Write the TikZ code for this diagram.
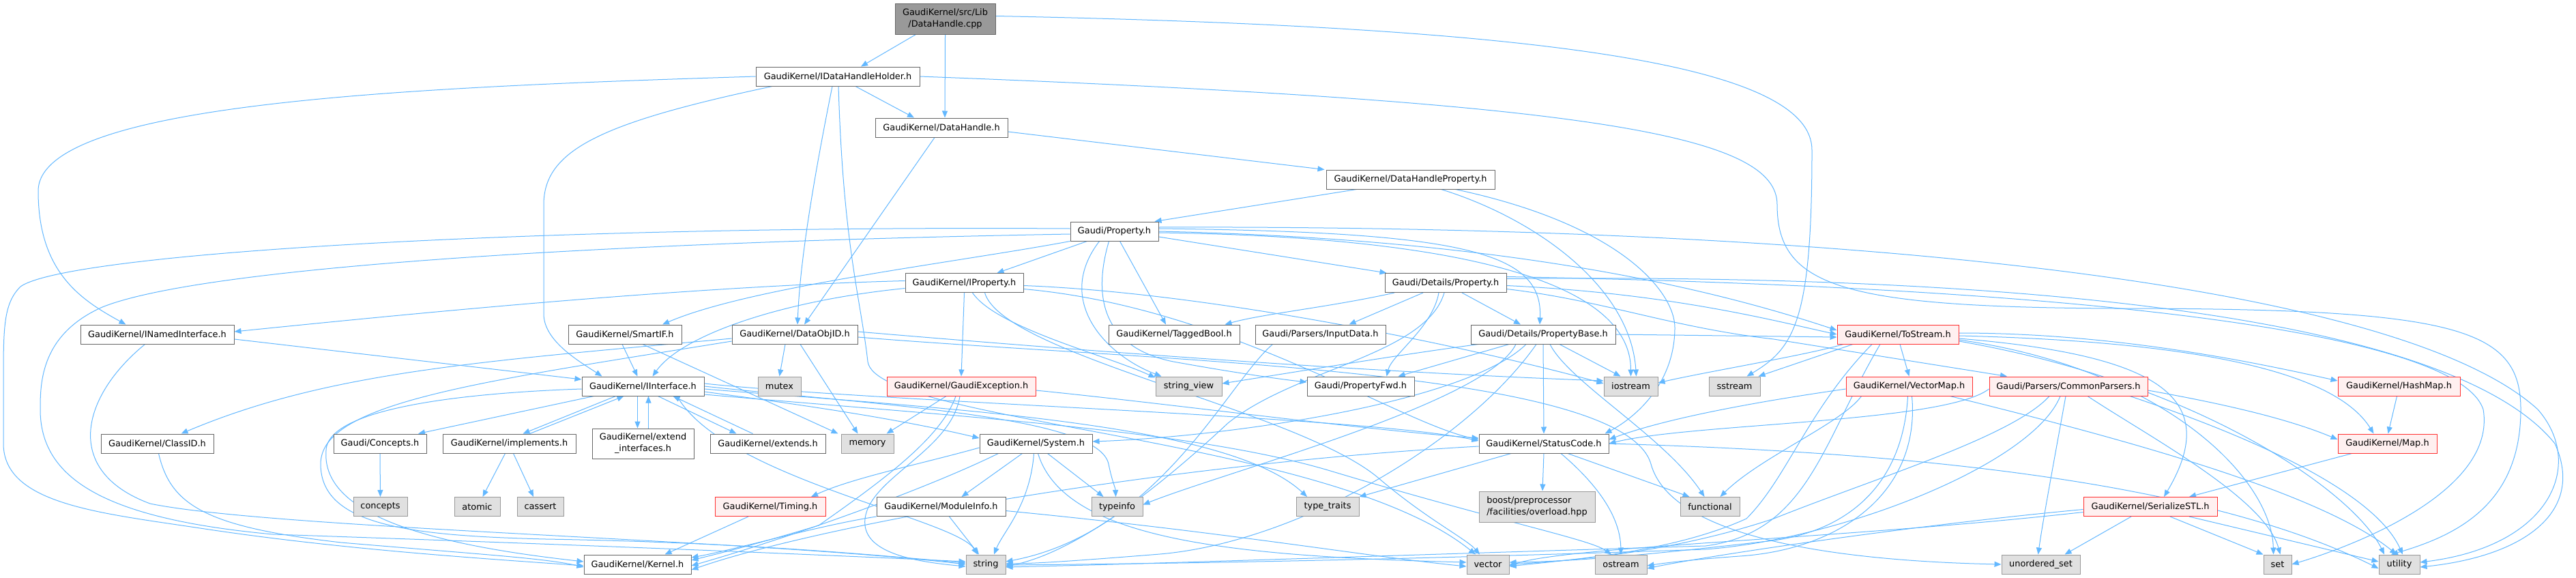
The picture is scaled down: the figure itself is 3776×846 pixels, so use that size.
\documentclass[tikz,border=0pt]{standalone}
\usepackage{fontspec}
\setmainfont{DejaVu Sans}
\usetikzlibrary{arrows.meta}
\definecolor{edgec}{HTML}{63B8FF}
\definecolor{bordc}{HTML}{666666}
\definecolor{sysfill}{HTML}{E0E0E0}
\definecolor{sysbord}{HTML}{999999}
\definecolor{redfill}{HTML}{FFF0F0}
\definecolor{redbord}{HTML}{FF3030}
\definecolor{rootfill}{HTML}{999999}
\pgfdeclarelayer{bg}
\pgfdeclarelayer{edges}
\pgfsetlayers{bg,edges,main}
\begin{document}
\begin{tikzpicture}[x=1pt,y=1pt,
  nb/.style={draw=bordc, fill=white, line width=1pt, inner sep=0pt, minimum height=28pt,
             font=\fontsize{12.9}{17}\selectfont, align=center},
  sysb/.style={nb, draw=sysbord, fill=sysfill},
  redb/.style={nb, draw=redbord, fill=redfill},
  rootb/.style={nb, fill=rootfill},
  dep/.style={draw=edgec, line width=1pt, -{Triangle[length=10pt,width=8pt]}}]
\useasboundingbox (0,0) rectangle (3776,-846);
\begin{pgfonlayer}{bg}
\fill[white] (0,0) rectangle (3776,-846);
\end{pgfonlayer}

% rows 0-5
\node[rootb, minimum width=147pt, minimum height=45pt] (root) at (1385.5,-27.5) {GaudiKernel/src/Lib\\/DataHandle.cpp};
\node[nb, minimum width=240pt] (idhh) at (1228,-112) {GaudiKernel/IDataHandleHolder.h};
\node[nb, minimum width=194pt] (dh) at (1380,-187) {GaudiKernel/DataHandle.h};
\node[nb, minimum width=247pt] (dhp) at (2067.5,-263) {GaudiKernel/DataHandleProperty.h};
\node[nb, minimum width=129pt] (prop) at (1633.5,-339) {Gaudi/Property.h};
\node[nb, minimum width=173pt] (iprop) at (1413.5,-414.5) {GaudiKernel/IProperty.h};
\node[nb, minimum width=178pt] (detprop) at (2119,-414.5) {Gaudi/Details/Property.h};
% row 6
\node[nb, minimum width=225pt] (inamed) at (230.5,-490) {GaudiKernel/INamedInterface.h};
\node[nb, minimum width=166pt] (smartif) at (916,-490) {GaudiKernel/SmartIF.h};
\node[nb, minimum width=184pt] (dataobjid) at (1165,-490) {GaudiKernel/DataObjID.h};
\node[nb, minimum width=192pt] (tagged) at (1721,-490) {GaudiKernel/TaggedBool.h};
\node[nb, minimum width=191pt] (inputdata) at (1935.5,-490) {Gaudi/Parsers/InputData.h};
\node[nb, minimum width=212pt] (propbase) at (2262,-490) {Gaudi/Details/PropertyBase.h};
\node[redb, minimum width=178pt] (tostream) at (2782,-490) {GaudiKernel/ToStream.h};
% row 7
\node[nb, minimum width=179pt] (iinterface) at (942.5,-566) {GaudiKernel/IInterface.h};
\node[sysb, minimum width=63pt] (mutex) at (1142.5,-566) {mutex};
\node[redb, minimum width=218pt] (gexc) at (1409,-566) {GaudiKernel/GaudiException.h};
\node[sysb, minimum width=97pt] (strview) at (1742.5,-566) {string\_view};
\node[nb, minimum width=157pt] (propfwd) at (1994.5,-566) {Gaudi/PropertyFwd.h};
\node[sysb, minimum width=79pt] (iostream) at (2390.5,-566) {iostream};
\node[sysb, minimum width=75pt] (sstream) at (2542.5,-566) {sstream};
\node[redb, minimum width=185pt] (vectormap) at (2798.5,-566) {GaudiKernel/VectorMap.h};
\node[redb, minimum width=232pt] (commonparsers) at (3032,-566) {Gaudi/Parsers/CommonParsers.h};
\node[redb, minimum width=179pt] (hashmap) at (3516.5,-566) {GaudiKernel/HashMap.h};
% row 8
\node[nb, minimum width=165pt] (classid) at (230.5,-650) {GaudiKernel/ClassID.h};
\node[nb, minimum width=136pt] (conceptsh) at (557,-650) {Gaudi/Concepts.h};
\node[nb, minimum width=195pt] (implements) at (746.5,-650) {GaudiKernel/implements.h};
\node[nb, minimum width=149pt, minimum height=44pt] (extendif) at (942.5,-650) {GaudiKernel/extend\\\_interfaces.h};
\node[nb, minimum width=169pt] (extends) at (1125.5,-650) {GaudiKernel/extends.h};
\node[sysb, minimum width=77pt] (memory) at (1271.5,-650) {memory};
\node[nb, minimum width=165pt] (system) at (1518.5,-650) {GaudiKernel/System.h};
\node[nb, minimum width=190pt] (statuscode) at (2263,-650) {GaudiKernel/StatusCode.h};
\node[redb, minimum width=145pt] (map) at (3499.5,-650) {GaudiKernel/Map.h};
% row 9
\node[sysb, minimum width=79pt] (concepts) at (557.5,-742.5) {concepts};
\node[sysb, minimum width=67pt] (atomic) at (699.5,-742.5) {atomic};
\node[sysb, minimum width=68pt] (cassert) at (792,-742.5) {cassert};
\node[redb, minimum width=162pt] (timing) at (1129,-742.5) {GaudiKernel/Timing.h};
\node[nb, minimum width=189pt] (moduleinfo) at (1379.5,-742.5) {GaudiKernel/ModuleInfo.h};
\node[sysb, minimum width=75pt] (typeinfo) at (1637.5,-742.5) {typeinfo};
\node[sysb, minimum width=92pt] (typetraits) at (1946,-742.5) {type\_traits};
\node[sysb, minimum width=170pt, minimum height=45pt, align=left] (boost) at (2253,-742.5) {boost/preprocessor\\/facilities/overload.hpp};
\node[sysb, minimum width=87pt] (functional) at (2506.5,-742.5) {functional};
\node[redb, minimum width=196pt] (serialize) at (3152,-742.5) {GaudiKernel/SerializeSTL.h};
% row 10
\node[nb, minimum width=157pt] (kernel) at (934.5,-827) {GaudiKernel/Kernel.h};
\node[sysb, minimum width=58pt] (string) at (1445,-827) {string};
\node[sysb, minimum width=62pt] (vector) at (2181,-827) {vector};
\node[sysb, minimum width=76pt] (ostream) at (2376,-827) {ostream};
\node[sysb, minimum width=115pt] (unordset) at (2991.5,-827) {unordered\_set};
\node[sysb, minimum width=41pt] (set) at (3338.5,-827) {set};
\node[sysb, minimum width=60pt] (utility) at (3517,-827) {utility};

\begin{pgfonlayer}{edges}
% root
\draw[dep] ([xshift=-43pt]root.south) -- ([xshift=34pt]idhh.north);
\draw[dep] (root.south) -- ([xshift=5pt]dh.north);
\draw[dep] ([yshift=4pt]root.east) .. controls (2300,-40) and (2656,-100) .. (2656,-220) .. controls (2656,-470) and (2630,-510) .. ([xshift=18pt]sstream.north);
% idhh
\draw[dep] ([xshift=26pt]idhh.south) -- ([xshift=-40pt]dh.north);
\draw[dep] (idhh.west) .. controls (600,-128) and (56,-150) .. (56,-280) .. controls (56,-400) and (120,-440) .. ([xshift=-46pt]inamed.north);
\draw[dep] ([xshift=-8pt]idhh.south) .. controls (1185,-300) and (1172,-400) .. ([xshift=4pt]dataobjid.north);
\draw[dep] ([xshift=-96pt]idhh.south) .. controls (880,-180) and (797,-220) .. (797,-300) -- (797,-460) .. controls (797,-500) and (850,-530) .. ([xshift=-60pt]iinterface.north);
\draw[dep] ([xshift=1pt]idhh.south) .. controls (1236,-360) and (1262,-440) .. (1272,-530) .. controls (1285,-620) and (1950,-640) .. ([xshift=-18pt]vector.north);
\draw[dep] (idhh.east) .. controls (2350,-150) and (2605,-200) .. (2605,-300) .. controls (2605,-420) and (2700,-450) .. (3100,-452) .. controls (3600,-452) and (3695,-480) .. (3695,-600) .. controls (3695,-740) and (3600,-785) .. ([xshift=-12pt]utility.north);
% dh
\draw[dep] ([xshift=-10pt]dh.south) -- ([xshift=14pt]dataobjid.north);
\draw[dep] ([yshift=-6pt]dh.east) -- ([xshift=-2pt]dhp.north west);
% dhp
\draw[dep] ([xshift=-79pt]dhp.south) -- ([xshift=-6pt]prop.north east);
\draw[dep] ([xshift=45pt]dhp.south) .. controls (2250,-320) and (2390,-420) .. ([xshift=8pt]iostream.north);
\draw[dep] ([xshift=66pt]dhp.south) .. controls (2380,-330) and (2455,-430) .. (2455,-480) .. controls (2455,-560) and (2400,-610) .. ([xshift=-6pt]statuscode.north east);
% prop
\draw[dep] ([xshift=-40pt]prop.south) -- ([xshift=48pt]iprop.north);
\draw[dep] (prop.south west) .. controls (1400,-385) and (1100,-420) .. ([xshift=55pt]smartif.north);
\draw[dep] ([xshift=-22pt]prop.south) .. controls (1545,-440) and (1620,-520) .. ([xshift=-40pt]strview.north);
\draw[dep] ([xshift=-8pt]prop.south) .. controls (1600,-440) and (1620,-510) .. (1720,-530) .. controls (1820,-548) and (1880,-556) .. ([yshift=6pt]propfwd.west);
\draw[dep] ([xshift=8pt]prop.south) -- ([xshift=-12pt]tagged.north);
\draw[dep] ([yshift=-8pt]prop.east) -- ([xshift=3pt]detprop.north west);
\draw[dep] ([yshift=4pt]prop.east) .. controls (2150,-340) and (2262,-370) .. ([xshift=-5pt]propbase.north);
\draw[dep] ([yshift=-2pt]prop.east) .. controls (2000,-345) and (2390,-380) .. (iostream.north);
\draw[dep] (prop.east) .. controls (2200,-350) and (2500,-420) .. ([yshift=6pt]tostream.west);
\draw[dep] ([yshift=6pt]prop.east) .. controls (2600,-330) and (3500,-400) .. (3720,-600) .. controls (3790,-680) and (3740,-800) .. ([yshift=3pt]utility.east);
\draw[dep] ([yshift=4pt]prop.west) .. controls (800,-330) and (100,-370) .. (30,-420) .. controls (5,-445) and (5,-480) .. (5,-560) -- (5,-650) .. controls (5,-740) and (150,-752) .. (300,-775) .. controls (500,-805) and (700,-818) .. ([yshift=-2pt]kernel.west);
\draw[dep] ([yshift=-4pt]prop.west) .. controls (900,-355) and (300,-390) .. (150,-450) .. controls (60,-490) and (59,-560) .. (59,-600) .. controls (59,-700) and (150,-760) .. (400,-783) .. controls (900,-800) and (1250,-815) .. ([yshift=4pt]string.west);
% iprop
\draw[dep] ([yshift=3pt]iprop.west) .. controls (1000,-420) and (600,-460) .. ([yshift=4pt]inamed.east);
\draw[dep] (iprop.south) -- (gexc.north);
\draw[dep] ([xshift=12pt]iprop.south) .. controls (1460,-480) and (1620,-520) .. ([yshift=-2pt]strview.north west);
\draw[dep] ([yshift=-8pt]iprop.west) .. controls (1150,-440) and (1000,-490) .. ([xshift=14pt]iinterface.north);
\draw[dep] ([yshift=-4pt]iprop.east) .. controls (1800,-430) and (2200,-520) .. ([yshift=4pt]iostream.west);
\draw[dep] ([yshift=-9pt]iprop.east) .. controls (1800,-450) and (2050,-620) .. ([yshift=6pt]statuscode.west);
\draw[dep] ([xshift=30pt]iprop.south) .. controls (1470,-520) and (1900,-600) .. (2020,-700) .. controls (2090,-760) and (2150,-790) .. ([xshift=-12pt]vector.north);
% smartif
\draw[dep] ([xshift=-4pt]smartif.south) -- ([xshift=-8pt]iinterface.north);
\draw[dep] ([xshift=26pt]smartif.south) -- ([xshift=-4pt]memory.north west);
% dataobjid
\draw[dep] ([xshift=-14pt]dataobjid.south) -- (mutex.north);
\draw[dep] ([xshift=8pt]dataobjid.south) -- ([xshift=-14pt]memory.north);
\draw[dep] ([yshift=-6pt]dataobjid.west) .. controls (700,-530) and (480,-545) .. ([xshift=35pt]classid.north);
\draw[dep] ([yshift=-10pt]dataobjid.west) .. controls (700,-560) and (470,-590) .. (470,-680) .. controls (470,-770) and (600,-785) .. (800,-790) .. controls (1100,-795) and (1300,-815) .. ([yshift=2pt]string.west);
\draw[dep] ([yshift=4pt]dataobjid.east) .. controls (1600,-515) and (2000,-545) .. ([yshift=8pt]iostream.west);
\draw[dep] ([yshift=-4pt]dataobjid.east) .. controls (1700,-530) and (2380,-540) .. (2420,-680) .. controls (2450,-790) and (2700,-822) .. (unordset.west);
% inamed
\draw[dep] ([yshift=-7pt]inamed.east) -- ([yshift=10pt]iinterface.west);
\draw[dep] ([xshift=-18pt]inamed.south) .. controls (120,-580) and (90,-690) .. (220,-738) .. controls (400,-775) and (1100,-790) .. (string.west);
% classid, concepts
\draw[dep] ([xshift=2pt]classid.south) .. controls (250,-740) and (300,-772) .. (500,-795) .. controls (700,-812) and (800,-818) .. ([yshift=-4pt]kernel.west);
\draw[dep] (conceptsh.south) -- (concepts.north);
% iinterface
\draw[dep] ([xshift=-40pt]iinterface.south) -- ([xshift=20pt]implements.north);
\draw[dep] ([xshift=30pt]implements.north) -- ([xshift=-28pt]iinterface.south);
\draw[dep] ([xshift=-8pt]iinterface.south) -- ([xshift=-8pt]extendif.north);
\draw[dep] ([xshift=8pt]extendif.north) -- ([xshift=8pt]iinterface.south);
\draw[dep] ([xshift=22pt]iinterface.south) -- ([xshift=-46pt]extends.north);
\draw[dep] ([xshift=-22pt]extends.north) -- ([xshift=44pt]iinterface.south);
\draw[dep] ([xshift=-72pt]iinterface.south) -- ([xshift=56pt]conceptsh.north);
\draw[dep] ([yshift=-4pt]iinterface.west) .. controls (700,-575) and (480,-595) .. (478,-660) .. controls (470,-760) and (650,-800) .. ([yshift=4pt]kernel.west);
\draw[dep] ([yshift=-8pt]iinterface.east) .. controls (1150,-590) and (1300,-610) .. ([yshift=8pt]system.west);
\draw[dep] ([yshift=4pt]iinterface.east) .. controls (1300,-590) and (2000,-610) .. ([yshift=4pt]statuscode.west);
\draw[dep] (iinterface.east) .. controls (1300,-595) and (1610,-610) .. (1625,-680) .. controls (1630,-705) and (1635,-715) .. ([xshift=-2pt]typeinfo.north);
\draw[dep] ([yshift=-4pt]iinterface.east) .. controls (1400,-600) and (1800,-620) .. ([xshift=-30pt]typetraits.north);
\draw[dep] ([yshift=-12pt]iinterface.east) .. controls (1400,-610) and (1750,-630) .. (1950,-690) .. controls (2200,-765) and (2330,-790) .. ([xshift=-14pt]ostream.north);
\draw[dep] ([xshift=50pt]iinterface.south) .. controls (1060,-700) and (1400,-760) .. ([xshift=-12pt]string.north);
% implements
\draw[dep] ([xshift=-6pt]implements.south) -- ([xshift=8pt]atomic.north);
\draw[dep] ([xshift=6pt]implements.south) -- ([xshift=-10pt]cassert.north);
% gexc
\draw[dep] ([xshift=-22pt]gexc.south) -- ([xshift=28pt]memory.north);
\draw[dep] ([xshift=-8pt]gexc.south) .. controls (1380,-640) and (1300,-700) .. (1200,-770) .. controls (1100,-800) and (1050,-812) .. ([yshift=6pt]kernel.east);
\draw[dep] ([xshift=-2pt]gexc.south) .. controls (1395,-660) and (1275,-700) .. (1268,-760) .. controls (1262,-810) and (1340,-823) .. ([yshift=-3pt]string.west);
\draw[dep] ([yshift=-6pt]gexc.east) .. controls (1700,-590) and (2000,-630) .. ([yshift=8pt]statuscode.west);
% system
\draw[dep] ([yshift=-6pt]system.west) .. controls (1350,-680) and (1250,-700) .. ([xshift=60pt]timing.north);
\draw[dep] ([xshift=-55pt]system.south) .. controls (1350,-720) and (1150,-790) .. ([yshift=-2pt]kernel.east);
\draw[dep] ([xshift=-20pt]system.south) -- ([xshift=30pt]moduleinfo.north);
\draw[dep] ([xshift=-3pt]system.south) .. controls (1510,-740) and (1470,-780) .. ([xshift=12pt]string.north);
\draw[dep] ([xshift=3pt]system.south) .. controls (1560,-790) and (1800,-815) .. ([yshift=3pt]vector.west);
\draw[dep] ([xshift=17pt]system.south) -- ([xshift=-20pt]typeinfo.north);
% timing, moduleinfo
\draw[dep] ([xshift=-32pt]timing.south) -- ([xshift=40pt]kernel.north);
\draw[dep] (moduleinfo.south west) .. controls (1200,-770) and (1080,-805) .. ([yshift=10pt]kernel.east);
\draw[dep] ([xshift=12pt]moduleinfo.south) -- ([xshift=-10pt]string.north);
\draw[dep] ([yshift=-6pt]moduleinfo.east) .. controls (1800,-780) and (2000,-815) .. ([yshift=-3pt]vector.west);
% inputdata
\draw[dep] ([xshift=-70pt]inputdata.south) .. controls (1800,-560) and (1700,-780) .. ([yshift=4pt]string.east);
% detprop
\draw[dep] ([xshift=-75pt]detprop.south) .. controls (1950,-450) and (1850,-460) .. ([xshift=-22pt]tagged.north east);
\draw[dep] ([xshift=-33pt]detprop.south) -- ([xshift=42pt]inputdata.north);
\draw[dep] ([xshift=-10pt]detprop.south) .. controls (2100,-480) and (2040,-520) .. ([xshift=38pt]propfwd.north);
\draw[dep] ([xshift=-2pt]detprop.south) .. controls (2090,-520) and (1900,-540) .. (1800,-620) .. controls (1650,-760) and (1550,-815) .. ([yshift=-3pt]string.east);
\draw[dep] ([xshift=24pt]detprop.south) -- ([xshift=-33pt]propbase.north);
\draw[dep] ([yshift=-4pt]detprop.east) .. controls (2450,-430) and (2600,-470) .. (tostream.west);
\draw[dep] ([yshift=-9pt]detprop.east) .. controls (2350,-440) and (2450,-480) .. (2600,-497) -- ([xshift=-90pt]commonparsers.north);
\draw[dep] ([yshift=6pt]detprop.east) .. controls (3000,-400) and (3600,-470) .. (3745,-650) .. controls (3790,-750) and (3700,-815) .. ([yshift=-4pt]utility.east);
\draw[dep] ([yshift=9pt]detprop.east) .. controls (3000,-420) and (3600,-480) .. (3640,-600) .. controls (3660,-720) and (3450,-800) .. (set.east);
% propbase
\draw[dep] ([xshift=-95pt]propbase.south) .. controls (2050,-520) and (1900,-545) .. ([yshift=4pt]strview.east);
\draw[dep] ([xshift=-50pt]propbase.south) -- ([xshift=55pt]propfwd.north);
\draw[dep] ([xshift=-25pt]propbase.south) .. controls (2150,-590) and (1800,-640) .. ([yshift=3pt]system.east);
\draw[dep] ([xshift=-10pt]propbase.south) .. controls (2150,-650) and (1900,-795) .. (1700,-812) .. controls (1600,-820) and (1520,-826) .. ([yshift=1pt]string.east);
\draw[dep] (propbase.south) -- (statuscode.north);
\draw[dep] ([xshift=10pt]propbase.south) .. controls (2300,-560) and (2440,-640) .. ([xshift=-8pt]functional.north);
\draw[dep] ([xshift=24pt]propbase.south) -- ([xshift=-15pt]iostream.north);
\draw[dep] (propbase.east) -- ([yshift=-4pt]tostream.west);
\draw[dep] ([xshift=-40pt]propbase.south) .. controls (2180,-590) and (1800,-690) .. ([yshift=3pt]typeinfo.east);
% statuscode
\draw[dep] (statuscode.south) -- ([xshift=8pt]boost.north);
\draw[dep] ([xshift=-48pt]statuscode.south) -- (typetraits.north east);
\draw[dep] ([xshift=25pt]statuscode.south) .. controls (2330,-700) and (2375,-750) .. (ostream.north);
\draw[dep] ([xshift=35pt]statuscode.south) -- ([xshift=-30pt]functional.north);
\draw[dep] ([yshift=-4pt]statuscode.west) .. controls (1700,-680) and (1200,-770) .. ([yshift=-8pt]kernel.east);
\draw[dep] (statuscode.east) .. controls (2700,-660) and (3200,-690) .. ([yshift=-6pt]utility.west);
% tostream
\draw[dep] ([xshift=-66pt]tostream.south) -- ([xshift=-3pt]sstream.north east);
\draw[dep] ([xshift=-80pt]tostream.south) .. controls (2650,-520) and (2500,-545) .. ([yshift=5pt]iostream.east);
\draw[dep] ([xshift=3pt]tostream.south) -- (vectormap.north);
\draw[dep] ([xshift=-38pt]tostream.south) .. controls (2650,-600) and (2620,-700) .. (2560,-760) .. controls (2450,-810) and (2300,-820) .. ([yshift=-3pt]vector.east);
\draw[dep] ([xshift=-26pt]tostream.south) .. controls (2670,-650) and (2650,-780) .. (2500,-800) .. controls (2000,-815) and (1700,-826) .. ([yshift=-4pt]string.east);
\draw[dep] ([yshift=2pt]tostream.east) .. controls (3100,-488) and (3300,-530) .. ([yshift=8pt]hashmap.west);
\draw[dep] ([yshift=-2pt]tostream.east) .. controls (3200,-500) and (3420,-540) .. ([xshift=-20pt]map.north);
\draw[dep] ([yshift=-6pt]tostream.east) .. controls (3160,-520) and (3260,-580) .. ([xshift=20pt]serialize.north);
\draw[dep] ([yshift=-8pt]tostream.east) .. controls (3170,-540) and (3330,-700) .. ([xshift=-6pt]set.north);
\draw[dep] ([yshift=-10pt]tostream.east) .. controls (3220,-560) and (3450,-720) .. ([xshift=-22pt]utility.north);
% vectormap
\draw[dep] ([yshift=-4pt]vectormap.west) .. controls (2600,-585) and (2450,-610) .. ([yshift=6pt]statuscode.east);
\draw[dep] ([xshift=-70pt]vectormap.south) .. controls (2700,-620) and (2580,-670) .. ([xshift=15pt]functional.north);
\draw[dep] ([xshift=-2pt]vectormap.south) .. controls (2790,-700) and (2720,-775) .. (2600,-792) .. controls (2400,-815) and (2300,-823) .. ([yshift=3pt]vector.east);
\draw[dep] ([xshift=4pt]vectormap.south) .. controls (2815,-720) and (2700,-805) .. (2550,-815) .. controls (2480,-820) and (2440,-825) .. ([yshift=-2pt]ostream.east);
\draw[dep] ([xshift=60pt]vectormap.south) .. controls (3100,-640) and (3400,-720) .. ([xshift=-4pt]utility.north);
% commonparsers
\draw[dep] ([yshift=-4pt]commonparsers.west) .. controls (2850,-620) and (2480,-620) .. (statuscode.east);
\draw[dep] ([xshift=-28pt]commonparsers.south) .. controls (2950,-640) and (2750,-700) .. (2600,-760) .. controls (2450,-810) and (2300,-822) .. (vector.east);
\draw[dep] ([xshift=-12pt]commonparsers.south) .. controls (2980,-680) and (2700,-790) .. (2500,-805) .. controls (2000,-822) and (1700,-826) .. ([yshift=-1pt]string.east);
\draw[dep] ([xshift=-4pt]commonparsers.south) .. controls (3010,-680) and (2995,-760) .. ([xshift=-4pt]unordset.north);
\draw[dep] ([xshift=28pt]commonparsers.south) .. controls (3150,-640) and (3320,-730) .. ([xshift=4pt]set.north);
\draw[dep] ([yshift=-6pt]commonparsers.east) .. controls (3250,-590) and (3350,-612) .. ([yshift=6pt]map.west);
\draw[dep] ([xshift=90pt]commonparsers.south) .. controls (3300,-640) and (3480,-720) .. ([xshift=5pt]utility.north);
% hashmap, map
\draw[dep] ([xshift=-3pt]hashmap.south) -- ([xshift=1pt]map.north);
\draw[dep] ([xshift=-52pt]map.south) -- ([xshift=57pt]serialize.north);
% serialize
\draw[dep] ([yshift=-4pt]serialize.west) .. controls (2800,-770) and (2500,-815) .. ([yshift=-6pt]ostream.east);
\draw[dep] ([yshift=-8pt]serialize.west) .. controls (2700,-790) and (2300,-800) .. ([yshift=-2pt]vector.east);
\draw[dep] ([xshift=-28pt]serialize.south) -- ([xshift=35pt]unordset.north);
\draw[dep] ([xshift=29pt]serialize.south) -- (set.north west);
\draw[dep] ([xshift=57pt]serialize.south) -- ([yshift=4pt]utility.west);
\end{pgfonlayer}
\end{tikzpicture}
\end{document}
